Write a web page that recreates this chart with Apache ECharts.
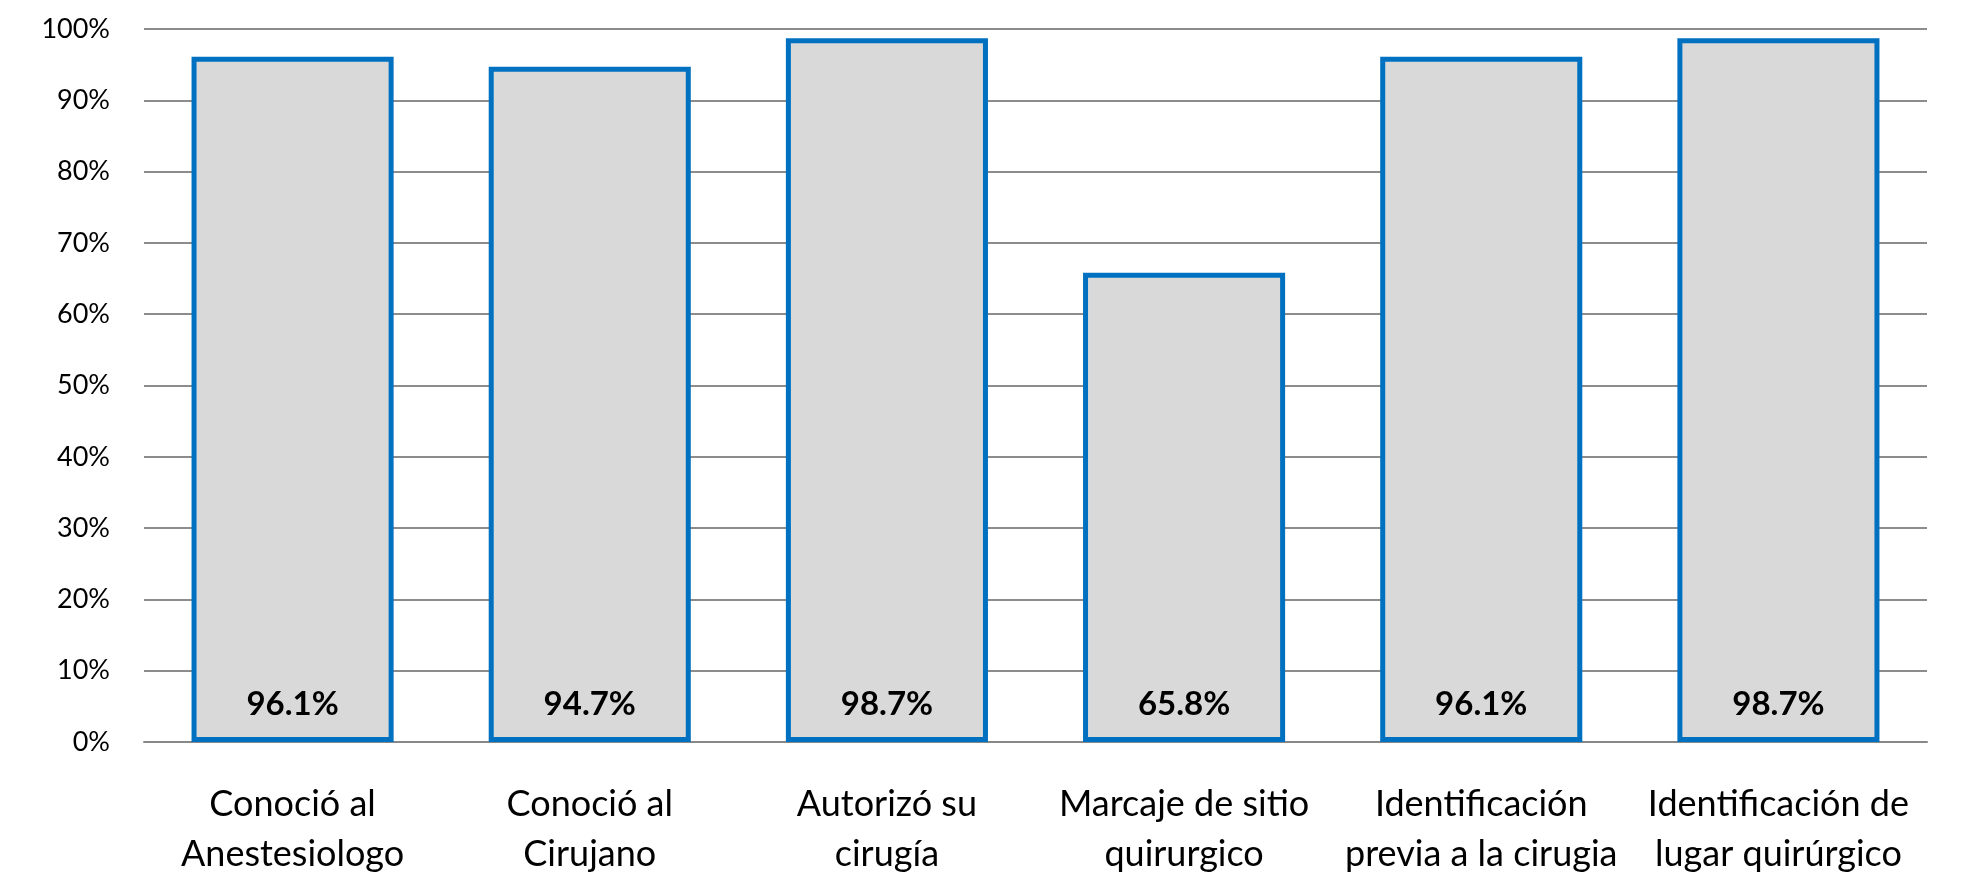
<!DOCTYPE html>
<html>
<head>
<meta charset="utf-8">
<script src="https://cdn.jsdelivr.net/npm/echarts@6/dist/echarts.min.js"></script>
<style>
html,body{margin:0;padding:0;background:#fff;}
#chart{width:1962px;height:881px;}
</style>
</head>
<body>
<div id="chart"></div>
<script>
const categories = [
  "Conoció al\nAnestesiologo",
  "Conoció al\nCirujano",
  "Autorizó su\ncirugía",
  "Marcaje de sitio\nquirurgico",
  "Identificación\nprevia a la cirugia",
  "Identificación de\nlugar quirúrgico"
];
const values = [96.1, 94.7, 98.7, 65.8, 96.1, 98.7];
const yTicks = [0, 10, 20, 30, 40, 50, 60, 70, 80, 90, 100];

const FONT = "Lato, 'Liberation Sans', sans-serif";
const chart = echarts.init(document.getElementById('chart'));
chart.setOption({
  animation: false,
  backgroundColor: '#ffffff',
  grid: { left: 144, right: 35, top: 29, bottom: 139, containLabel: false },
  xAxis: {
    type: 'category',
    data: categories,
    axisLine: { show: true, lineStyle: { color: '#888888', width: 2 } },
    axisTick: { show: false },
    axisLabel: {
      interval: 0,
      color: '#000000',
      fontFamily: FONT,
      fontSize: 36,
      lineHeight: 50,
      margin: 37
    }
  },
  yAxis: {
    type: 'value',
    min: yTicks[0],
    max: yTicks[yTicks.length - 1],
    interval: 10,
    axisLine: { show: false },
    axisTick: { show: false },
    splitLine: { show: true, lineStyle: { color: '#8c8c8c', width: 2 } },
    axisLabel: {
      formatter: '{value}%',
      color: '#000000',
      fontFamily: FONT,
      fontSize: 27,
      margin: 34
    }
  },
  series: [{
    type: 'bar',
    data: values,
    barWidth: '68%',
    itemStyle: {
      color: '#d9d9d9',
      borderColor: '#0070c0',
      borderWidth: 5
    },
    label: {
      show: true,
      position: 'insideBottom',
      distance: 21,
      formatter: p => p.value.toFixed(1) + '%',
      color: '#000000',
      fontFamily: FONT,
      fontWeight: 'bold',
      fontSize: 33
    }
  }]
});
</script>
</body>
</html>
